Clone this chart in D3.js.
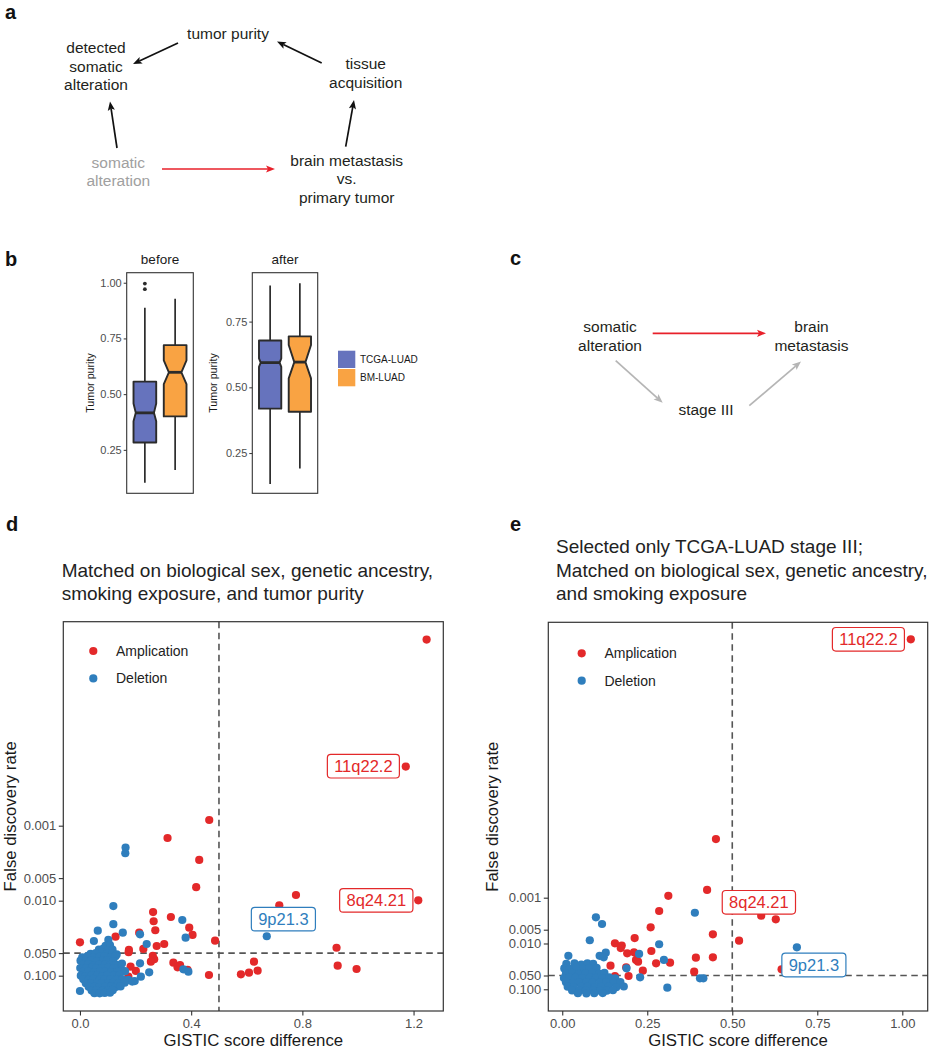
<!DOCTYPE html>
<html><head><meta charset="utf-8">
<script src="https://cdn.jsdelivr.net/npm/d3@7"></script>
<style>
body{margin:0;background:#fff}
svg{display:block}
text{font-family:"Liberation Sans",Arial,Helvetica,sans-serif}
</style>
</head><body>
<svg id="fig" width="935" height="1050"></svg>
<script>
// ================= DATA =================
// Panel b: tumour purity box plots (before / after matching)
const boxGroups = ["TCGA-LUAD", "BM-LUAD"];
const boxFill = ["#6673bd", "#f9a343"];
const purityTicksBefore = [0.25, 0.50, 0.75, 1.00];
const purityTicksAfter = [0.25, 0.50, 0.75];
const beforeLow = [0.102, 0.160];
const beforeQ1 = [0.283, 0.400];
const beforeMed = [0.416, 0.598];
const beforeQ3 = [0.556, 0.720];
const beforeHigh = [0.888, 0.928];
const beforeNotchLo = [0.378, 0.545];
const beforeNotchHi = [0.458, 0.652];
const beforeOutliersTCGA = [0.996, 0.971];
const afterLow = [0.132, 0.191];
const afterQ1 = [0.419, 0.407];
const afterMed = [0.594, 0.596];
const afterQ3 = [0.678, 0.694];
const afterHigh = [0.887, 0.896];
const afterNotchLo = [0.578, 0.534];
const afterNotchHi = [0.610, 0.661];

// Panel d: [GISTIC score difference, FDR]
const ampD = [[1.247,3.3e-6],[1.172,1.63e-4],[1.217,0.0099],[0.465,8.4e-4],[0.315,1.46e-3],[0.429,2.86e-3],
 [0.418,6.6e-3],[0.777,8.4e-3],[0.717,0.0115],[0.263,0.0142],[0.327,0.0165],[0.265,0.0188],[0.393,0.0229],
 [0.271,0.0248],[0.213,0.0267],[0.128,0.0302],[0.405,0.0286],[0.000,0.0359],[0.486,0.0341],[0.923,0.0424],
 [0.303,0.0378],[0.276,0.0402],[0.228,0.044],[0.176,0.0454],[0.175,0.0487],[0.262,0.0546],[0.267,0.0604],
 [0.255,0.065],[0.336,0.0671],[0.360,0.072],[0.351,0.0773],[0.387,0.0839],[0.626,0.065],[0.927,0.0736],
 [0.995,0.0815],[0.639,0.0857],[0.608,0.0912],[0.579,0.0958],[0.464,0.098],[0.182,0.0759],[0.201,0.0865],
 [0.174,0.103],[0.040,0.0546],[0.047,0.0618]];
const delD = [[0.672,0.0298],[0.164,1.96e-3],[0.163,2.33e-3],[0.120,0.0118],[0.368,0.0181],[0.120,0.0206],
 [0.064,0.0251],[0.154,0.0267],[0.216,0.0281],[0.380,0.0311],[0.050,0.0345],[0.102,0.0334],[0.240,0.0378],
 [0.216,0.0684],[0.146,0.0797],[0.249,0.0901],[0.219,0.103],[0.372,0.0822],[0.390,0.0885],[0.000,0.160],
 [0.092,0.040],[0.108,0.039],[0.068,0.045],[0.083,0.044],[0.101,0.046],[0.117,0.045],
 [0.038,0.051],[0.057,0.050],[0.079,0.049],[0.097,0.051],[0.118,0.050],[0.132,0.052],
 [0.008,0.057],[0.027,0.055],[0.049,0.057],[0.071,0.056],[0.089,0.055],[0.112,0.057],[0.128,0.055],
 [0.002,0.063],[0.021,0.064],[0.041,0.062],[0.061,0.064],[0.083,0.063],[0.099,0.062],[0.119,0.064],
 [0.012,0.071],[0.031,0.070],[0.052,0.072],[0.069,0.071],[0.091,0.070],[0.108,0.072],[0.131,0.071],[0.151,0.069],
 [0.001,0.079],[0.022,0.080],[0.043,0.078],[0.058,0.080],[0.079,0.079],[0.102,0.078],[0.121,0.080],
 [0.011,0.089],[0.029,0.088],[0.051,0.090],[0.072,0.089],[0.088,0.088],[0.111,0.090],[0.133,0.089],[0.162,0.087],
 [0.003,0.100],[0.019,0.101],[0.042,0.099],[0.061,0.100],[0.081,0.101],[0.098,0.099],[0.122,0.100],[0.141,0.098],
 [0.012,0.112],[0.031,0.113],[0.049,0.111],[0.071,0.113],[0.089,0.112],[0.109,0.111],[0.131,0.113],[0.152,0.111],[0.174,0.114],[0.197,0.118],
 [0.021,0.126],[0.041,0.127],[0.062,0.125],[0.079,0.126],[0.101,0.127],[0.119,0.125],[0.139,0.127],[0.161,0.124],[0.188,0.120],
 [0.031,0.141],[0.052,0.140],[0.069,0.142],[0.091,0.141],[0.112,0.140],[0.129,0.142],[0.146,0.139],
 [0.042,0.158],[0.059,0.157],[0.081,0.159],[0.099,0.158],[0.118,0.156],
 [0.052,0.171],[0.071,0.172],[0.089,0.170],[0.108,0.169]];

// Panel e
const ampE = [[1.025,2.28e-9],[0.585,2.47e-3],[0.452,5.25e-5],[0.426,6.76e-4],[0.312,9.1e-4],[0.285,1.95e-3],
 [0.628,2.96e-3],[0.260,4.43e-3],[0.443,6.3e-3],[0.213,7.6e-3],[0.520,8.7e-3],[0.155,9.9e-3],[0.175,0.0111],
 [0.172,0.0126],[0.262,0.0146],[0.191,0.0164],[0.211,0.0156],[0.443,0.020],[0.393,0.0204],[0.217,0.0229],
 [0.223,0.0249],[0.317,0.0263],[0.276,0.0271],[0.142,0.0305],[0.188,0.0331],[0.237,0.0393],[0.388,0.0413],
 [0.645,0.0366],[0.195,0.0513],[0.155,0.0513]];
const delE = [[0.690,0.0121],[0.099,2.68e-3],[0.117,3.75e-3],[0.081,8.5e-3],[0.390,2.13e-3],[0.285,0.0104],
 [0.128,0.0159],[0.226,0.0169],[0.110,0.0186],[0.122,0.020],[0.018,0.0186],[0.299,0.0229],[0.309,0.0923],
 [0.405,0.0575],[0.415,0.0575],[0.229,0.0547],[0.189,0.0348],
 [0.012,0.028],[0.036,0.027],[0.056,0.029],[0.074,0.027],[0.091,0.028],
 [0.006,0.035],[0.022,0.036],[0.041,0.034],[0.061,0.036],[0.079,0.035],[0.101,0.034],
 [0.011,0.045],[0.029,0.044],[0.049,0.046],[0.069,0.045],[0.088,0.044],[0.109,0.046],[0.124,0.044],
 [0.005,0.057],[0.021,0.055],[0.039,0.056],[0.059,0.057],[0.081,0.055],[0.099,0.056],[0.119,0.057],[0.138,0.055],[0.156,0.058],
 [0.011,0.070],[0.031,0.072],[0.049,0.071],[0.071,0.070],[0.089,0.072],[0.111,0.071],[0.129,0.070],[0.151,0.072],[0.171,0.070],
 [0.016,0.088],[0.034,0.090],[0.056,0.089],[0.074,0.088],[0.096,0.090],[0.114,0.089],[0.136,0.088],[0.159,0.090],[0.181,0.087],
 [0.029,0.106],[0.051,0.108],[0.069,0.107],[0.091,0.106],[0.111,0.108],[0.131,0.107],[0.149,0.105],
 [0.046,0.122],[0.071,0.123],[0.094,0.122],[0.119,0.121]];

const fdrTicks = [0.001, 0.005, 0.010, 0.050, 0.100];
const xTicksD = [0.0, 0.4, 0.8, 1.2];
const xTicksE = [0.00, 0.25, 0.50, 0.75, 1.00];
const seriesNames = ["Amplication", "Deletion"];
const seriesColors = ["#e3292a", "#2f7ebd"];
// labelled regions: [name, series (0 amp / 1 del), index in series]
const labelsD = [["11q22.2",0,1],["8q24.21",0,2],["9p21.3",1,0]];
const labelsE = [["11q22.2",0,0],["8q24.21",0,1],["9p21.3",1,0]];

// ================= DRAWING =================
const svg = d3.select("#fig");
const DARK = "#231f20";

function txt(g, x, y, s, o = {}) {
  return g.append("text").attr("x", x).attr("y", y).text(s)
    .attr("font-size", o.size || 15.5).attr("fill", o.fill || DARK)
    .attr("text-anchor", o.anchor || "middle")
    .attr("font-weight", o.weight || "normal");
}
function arrow(g, x1, y1, x2, y2, color, sw = 1.7, hl = 9, hw = 3.6) {
  const a = Math.atan2(y2 - y1, x2 - x1);
  const bx = x2 - hl * Math.cos(a), by = y2 - hl * Math.sin(a);
  g.append("line").attr("x1", x1).attr("y1", y1)
    .attr("x2", bx + Math.cos(a) * 2).attr("y2", by + Math.sin(a) * 2)
    .attr("stroke", color).attr("stroke-width", sw);
  const px = -Math.sin(a), py = Math.cos(a);
  g.append("path").attr("d", `M${x2},${y2}L${bx + px * hw},${by + py * hw}L${bx + Math.cos(a)*2},${by + Math.sin(a)*2}L${bx - px * hw},${by - py * hw}Z`)
    .attr("fill", color);
}

// panel letters
[["a",5,18.5],["b",5,266],["c",510,265],["d",6,531],["e",510,531]].forEach(([l,x,y]) =>
  txt(svg, x, y, l, {size: 20, weight: "bold", anchor: "start", fill: "#111"}));

// ---------- panel a ----------
const ga = svg.append("g");
txt(ga, 228, 39.3, "tumor purity");
["detected","somatic","alteration"].forEach((s,i) => txt(ga, 96, 53.3 + i*18.4, s));
["tissue","acquisition"].forEach((s,i) => txt(ga, 365.7, 69.3 + i*18.4, s));
["somatic","alteration"].forEach((s,i) => txt(ga, 118.3, 167.7 + i*18.4, s, {fill: "#a0a0a0"}));
["brain metastasis","vs.","primary tumor"].forEach((s,i) => txt(ga, 346.7, 165.7 + i*18.5, s));
arrow(ga, 178, 43, 133, 64, "#111");
arrow(ga, 321.7, 63, 277, 41.5, "#111");
arrow(ga, 117, 148, 110, 101.5, "#111");
arrow(ga, 345.7, 146.7, 354, 100, "#111");
arrow(ga, 162, 169, 275, 169, "#e8202a");

// ---------- panel c ----------
const gc = svg.append("g");
["somatic","alteration"].forEach((s,i) => txt(gc, 610, 332 + i*18.6, s));
["brain","metastasis"].forEach((s,i) => txt(gc, 811.5, 332 + i*18.6, s));
txt(gc, 706, 415, "stage III");
arrow(gc, 652.7, 333.3, 766, 333.3, "#e8202a");
arrow(gc, 615.7, 360.7, 662.7, 402.7, "#b5b5b5");
arrow(gc, 749.3, 405.7, 801, 361.5, "#b5b5b5");

// ---------- panel b ----------
function boxPanel(x0, x1, y0, y1, domain, ticks, title, S, notchW, outliers) {
  const g = svg.append("g");
  const x = d3.scaleLinear().domain([0.4, 2.6]).range([x0, x1]);
  const y = d3.scaleLinear().domain(domain).range([y1, y0]);
  const hb = x(1.375) - x(1);
  boxGroups.forEach((grp, i) => {
    const cx = x(i + 1);
    g.append("line").attr("x1", cx).attr("x2", cx).attr("y1", y(S.low[i])).attr("y2", y(S.q1[i]))
      .attr("stroke", "#2b2b2b").attr("stroke-width", 1.7);
    g.append("line").attr("x1", cx).attr("x2", cx).attr("y1", y(S.q3[i])).attr("y2", y(S.high[i]))
      .attr("stroke", "#2b2b2b").attr("stroke-width", 1.7);
    const nw = hb * notchW[i];
    const pts = [[cx-hb,y(S.q3[i])],[cx+hb,y(S.q3[i])],[cx+hb,y(S.nHi[i])],[cx+nw,y(S.med[i])],
      [cx+hb,y(S.nLo[i])],[cx+hb,y(S.q1[i])],[cx-hb,y(S.q1[i])],[cx-hb,y(S.nLo[i])],
      [cx-nw,y(S.med[i])],[cx-hb,y(S.nHi[i])]];
    g.append("path").attr("d", d3.line()(pts) + "Z").attr("fill", boxFill[i])
      .attr("stroke", "#2b2b2b").attr("stroke-width", 1.9).attr("stroke-linejoin", "round");
    g.append("line").attr("x1", cx - nw).attr("x2", cx + nw).attr("y1", y(S.med[i])).attr("y2", y(S.med[i]))
      .attr("stroke", "#2b2b2b").attr("stroke-width", 2.8);
  });
  if (outliers) outliers.forEach(v => g.append("circle").attr("cx", x(1)).attr("cy", y(v)).attr("r", 1.9).attr("fill", "#2b2b2b"));
  g.append("rect").attr("x", x0).attr("y", y0).attr("width", x1 - x0).attr("height", y1 - y0)
    .attr("fill", "none").attr("stroke", "#333").attr("stroke-width", 1.1);
  const ax = g.append("g").attr("transform", `translate(${x0},0)`)
    .call(d3.axisLeft(y).tickValues(ticks).tickFormat(d3.format(".2f")).tickSize(3).tickPadding(2));
  ax.select(".domain").remove();
  ax.selectAll("line").attr("stroke", "#333");
  ax.selectAll("text").attr("font-size", 11).attr("fill", "#4d4d4d")
    .attr("font-family", '"Liberation Sans",Arial,sans-serif');
  txt(g, (x0 + x1) / 2, 263.5, title, {size: 13.5, fill: "#1a1a1a"});
  return g;
}
boxPanel(126.7, 193.3, 272.7, 493.3, [0.055, 1.045], purityTicksBefore, "before",
  {low: beforeLow, q1: beforeQ1, med: beforeMed, q3: beforeQ3, high: beforeHigh, nLo: beforeNotchLo, nHi: beforeNotchHi},
  [0.8, 0.55], beforeOutliersTCGA);
boxPanel(252.3, 317.7, 272.7, 493.3, [0.097, 0.936], purityTicksAfter, "after",
  {low: afterLow, q1: afterQ1, med: afterMed, q3: afterQ3, high: afterHigh, nLo: afterNotchLo, nHi: afterNotchHi},
  [0.85, 0.5], null);
[94.4, 217].forEach(xx => svg.append("text").attr("transform", `translate(${xx},383) rotate(-90)`)
  .attr("text-anchor", "middle").attr("font-size", 10.7).attr("fill", "#1a1a1a").text("Tumor purity"));
boxGroups.forEach((grp, i) => {
  svg.append("rect").attr("x", 338).attr("y", 350.7 + i * 18.3).attr("width", 17.3).attr("height", 17.3)
    .attr("fill", boxFill[i]);
  txt(svg, 360, 363 + i * 18.3, grp, {size: 10, anchor: "start", fill: "#1a1a1a"});
});

// ---------- panels d, e ----------
function scatterPanel(o) {
  const g = svg.append("g");
  const x = d3.scaleLinear().domain(o.xDomain).range([o.x0, o.x1]);
  const y = d3.scaleLog().domain(o.yDomain).range([o.y1, o.y0]);
  o.title.forEach((t, i) => txt(g, o.titleX, o.titleY + i * 23.5, t, {size: 19, anchor: "start", fill: "#222"}));
  const dash = {stroke: "#555", "stroke-width": 1.6, "stroke-dasharray": "6.5,4.5"};
  const vl = g.append("line").attr("x1", x(0.5)).attr("x2", x(0.5)).attr("y1", o.y0).attr("y2", o.y1);
  const hl = g.append("line").attr("x1", o.x0).attr("x2", o.x1).attr("y1", y(0.05)).attr("y2", y(0.05));
  for (const k in dash) { vl.attr(k, dash[k]); hl.attr(k, dash[k]); }
  [o.amp, o.del].forEach((ser, si) => {
    g.append("g").selectAll("circle").data(ser).join("circle")
      .attr("cx", d => x(d[0])).attr("cy", d => y(d[1])).attr("r", 4.1)
      .attr("fill", seriesColors[si]);
  });
  // legend
  seriesNames.forEach((s, i) => {
    g.append("circle").attr("cx", o.legX).attr("cy", o.legY + i * 27.4).attr("r", 4.1).attr("fill", seriesColors[i]);
    txt(g, o.legX + 22.7, o.legY + 5 + i * 27.4, s, {size: 14, anchor: "start", fill: "#222"});
  });
  // labels
  o.labels.forEach(([name, si, idx], li) => {
    const d = (si === 0 ? o.amp : o.del)[idx];
    const [dx, dy] = o.labelOffsets[li];
    const cx = x(d[0]) + dx, cy = y(d[1]) + dy;
    const t = g.append("text").attr("x", cx).attr("y", cy + 6).attr("text-anchor", "middle")
      .attr("font-size", 16.5).attr("fill", seriesColors[si]).text(name);
    const w = t.node().getComputedTextLength() + 13.6;
    g.insert("rect", () => t.node()).attr("x", cx - w / 2).attr("y", cy - 11.8).attr("width", w).attr("height", 23.6)
      .attr("rx", 3.5).attr("fill", "#fff").attr("stroke", seriesColors[si]).attr("stroke-width", 1.2);
  });
  g.append("rect").attr("x", o.x0).attr("y", o.y0).attr("width", o.x1 - o.x0).attr("height", o.y1 - o.y0)
    .attr("fill", "none").attr("stroke", "#333").attr("stroke-width", 1.2);
  const ay = g.append("g").attr("transform", `translate(${o.x0},0)`)
    .call(d3.axisLeft(y).tickValues(fdrTicks).tickFormat(d3.format(".3f")).tickSize(4.5).tickPadding(2.5));
  const axx = g.append("g").attr("transform", `translate(0,${o.y1})`)
    .call(d3.axisBottom(x).tickValues(o.xTicks).tickFormat(d3.format(o.xFmt)).tickSize(4.5).tickPadding(3));
  [ay, axx].forEach(a => {
    a.select(".domain").remove();
    a.selectAll("line").attr("stroke", "#333").attr("stroke-width", 1.1);
    a.selectAll("text").attr("font-size", 13).attr("fill", "#4d4d4d")
      .attr("font-family", '"Liberation Sans",Arial,sans-serif');
  });
  txt(g, (o.x0 + o.x1) / 2, 1045.5, "GISTIC score difference", {size: 16.8, fill: "#1a1a1a"});
  g.append("text").attr("transform", `translate(${o.ylabX},${(o.y0 + o.y1) / 2}) rotate(-90)`)
    .attr("text-anchor", "middle").attr("font-size", 16.8).attr("fill", "#1a1a1a").text("False discovery rate");
}

scatterPanel({x0: 63.3, x1: 443.3, y0: 621.7, y1: 1011, xDomain: [-0.060, 1.307], yDomain: [0.2958, 1.905e-6],
  amp: ampD, del: delD, xTicks: xTicksD, xFmt: ".1f",
  title: ["Matched on biological sex, genetic ancestry,", "smoking exposure, and tumor purity"],
  titleX: 61.7, titleY: 576.5, legX: 93.3, legY: 651, ylabX: 16,
  labels: labelsD, labelOffsets: [[-42.4, -0.4], [-42, 0], [16.6, -17.1]]});
scatterPanel({x0: 548.3, x1: 927.7, y0: 622.3, y1: 1011, xDomain: [-0.041, 1.0747], yDomain: [0.2979, 9.7e-10],
  amp: ampE, del: delE, xTicks: xTicksE, xFmt: ".2f",
  title: ["Selected only TCGA-LUAD stage III;", "Matched on biological sex, genetic ancestry,", "and smoking exposure"],
  titleX: 556, titleY: 553, legX: 581.7, legY: 653.3, ylabX: 498,
  labels: labelsE, labelOffsets: [[-42.4, 0], [-2.3, -13.4], [17, 17.7]]});
</script>
</body></html>
